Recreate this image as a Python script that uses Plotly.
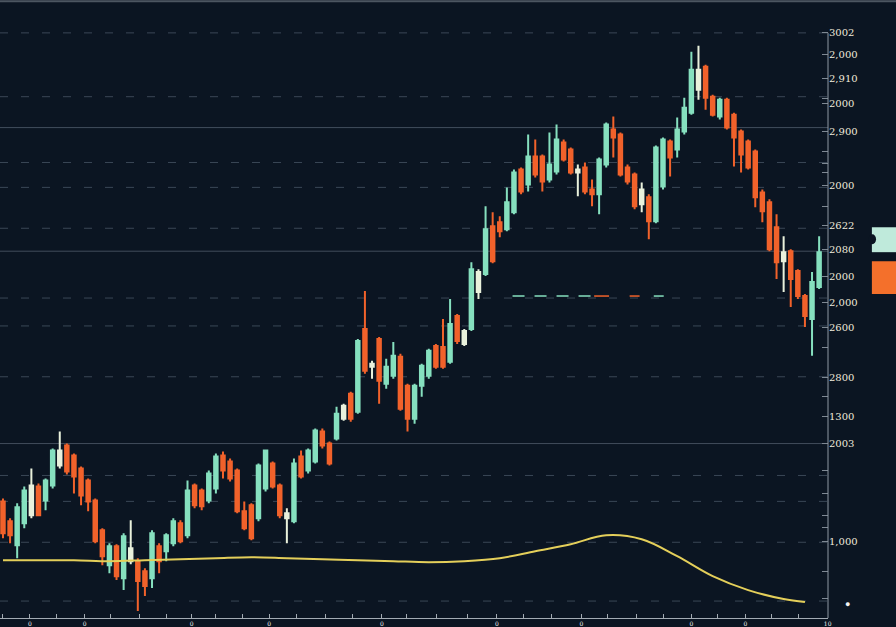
import plotly.graph_objects as go

# ---------------- data ----------------
open_ = [2117, 2097, 2073, 2095, 2103, 2132, 2118, 2133, 2153, 2173,
         2163, 2150, 2138, 2118, 2088, 2053, 2072, 2040, 2057, 2057,
         2047, 2040, 2072, 2067, 2075, 2095, 2083, 2133, 2128, 2118,
         2130, 2163, 2157, 2148, 2107, 2113, 2100, 2130, 2155, 2133,
         2100, 2097, 2162, 2148, 2157, 2187, 2175, 2180, 2200, 2225,
         2207, 2290, 2252, 2280, 2235, 2243, 2262, 2233, 2200, 2233,
         2243, 2273, 2272, 2257, 2303, 2275, 2290, 2327, 2345, 2393,
         2397, 2390, 2407, 2450, 2435, 2463, 2463, 2440, 2448, 2477,
         2470, 2447, 2452, 2430, 2425, 2455, 2490, 2485, 2452, 2445,
         2415, 2422, 2398, 2433, 2478, 2470, 2488, 2507, 2530, 2553,
         2523, 2503, 2520, 2505, 2488, 2478, 2468, 2427, 2417, 2392,
         2358, 2368, 2348, 2323, 2300, 2332]
high = [2120, 2100, 2115, 2132, 2150, 2135, 2140, 2170, 2187, 2175,
        2165, 2152, 2140, 2120, 2090, 2075, 2074, 2085, 2098, 2060,
        2050, 2088, 2075, 2085, 2100, 2098, 2138, 2135, 2130, 2148,
        2165, 2167, 2160, 2150, 2117, 2115, 2155, 2169, 2157, 2135,
        2110, 2160, 2168, 2170, 2190, 2190, 2177, 2212, 2215, 2227,
        2280, 2328, 2258, 2282, 2260, 2277, 2265, 2235, 2235, 2255,
        2270, 2275, 2300, 2320, 2305, 2290, 2357, 2350, 2413, 2407,
        2403, 2432, 2450, 2452, 2485, 2480, 2465, 2487, 2495, 2480,
        2472, 2455, 2457, 2440, 2462, 2497, 2503, 2487, 2455, 2447,
        2437, 2425, 2474, 2482, 2480, 2502, 2522, 2568, 2574, 2555,
        2525, 2522, 2522, 2507, 2490, 2480, 2470, 2430, 2420, 2405,
        2383, 2370, 2350, 2325, 2347, 2383]
low = [2080, 2075, 2060, 2090, 2100, 2102, 2108, 2130, 2150, 2144,
       2125, 2113, 2107, 2075, 2053, 2045, 2038, 2028, 2054, 2007,
       2022, 2030, 2045, 2057, 2072, 2075, 2080, 2110, 2108, 2115,
       2125, 2140, 2137, 2105, 2088, 2078, 2097, 2127, 2130, 2100,
       2075, 2095, 2140, 2145, 2155, 2170, 2153, 2178, 2198, 2197,
       2205, 2245, 2240, 2215, 2230, 2240, 2208, 2187, 2195, 2222,
       2240, 2250, 2250, 2255, 2275, 2273, 2288, 2320, 2343, 2356,
       2382, 2388, 2405, 2425, 2428, 2442, 2428, 2437, 2445, 2458,
       2445, 2423, 2425, 2413, 2405, 2452, 2462, 2443, 2435, 2410,
       2407, 2380, 2396, 2430, 2443, 2462, 2485, 2505, 2520, 2510,
       2503, 2500, 2490, 2453, 2447, 2450, 2412, 2397, 2368, 2340,
       2327, 2312, 2320, 2292, 2263, 2330]
close = [2085, 2083, 2111, 2128, 2133, 2103, 2138, 2168, 2168, 2147,
         2142, 2123, 2117, 2077, 2062, 2072, 2042, 2082, 2070, 2037,
         2032, 2085, 2057, 2083, 2097, 2077, 2128, 2113, 2112, 2145,
         2162, 2148, 2140, 2107, 2090, 2080, 2153, 2168, 2132, 2103,
         2105, 2155, 2142, 2168, 2188, 2173, 2155, 2205, 2213, 2200,
         2278, 2248, 2255, 2238, 2252, 2263, 2210, 2200, 2233, 2253,
         2268, 2252, 2252, 2295, 2278, 2288, 2350, 2347, 2390, 2358,
         2388, 2417, 2447, 2428, 2463, 2445, 2438, 2455, 2480, 2460,
         2447, 2450, 2428, 2425, 2460, 2495, 2482, 2445, 2438, 2413,
         2430, 2398, 2472, 2480, 2462, 2490, 2512, 2550, 2550, 2522,
         2505, 2520, 2492, 2482, 2465, 2452, 2422, 2408, 2370, 2357,
         2367, 2340, 2323, 2303, 2337, 2367]
# candles drawn in a pale cream tone in the reference
highlighted = [4, 8, 18, 40, 48, 52, 65, 67, 81, 90, 98, 110]

# smooth yellow average line
ma_x = [0, 5, 10, 15, 20, 25, 30, 35, 40, 45, 50, 55, 60, 65, 70, 75,
        80, 85, 90, 95, 100, 105, 110, 113]
ma_y = [2058, 2058, 2058, 2057, 2058, 2059, 2060, 2061, 2060, 2059, 2058,
        2057, 2056, 2057, 2060, 2067, 2074, 2083, 2079, 2062, 2042, 2028,
        2019, 2016]

# right axis ticks (labels as printed in the reference)
y_tick_vals = [2587, 2565, 2541, 2516, 2488, 2434, 2394, 2370, 2343, 2317,
               2291, 2241, 2202, 2175, 2077]
y_tick_text = ["3002", "2,000", "2,910", "2000", "2,900", "2000", "2622",
               "2080", "2000", "2,000", "2600", "2800", "1300", "2003", "1,000"]
y_minor_vals = [2521, 2468, 2456, 2447, 2413, 2271, 2222, 2148, 2125, 2103,
                2091, 2047, 2020]

x_tick_vals = [-0.1, 3.8, 7.6, 11.5, 15.2, 19.2, 23.0, 26.6, 29.9, 33.7,
               37.5, 41.3, 45.4, 49.3, 53.4, 56.9, 61.1, 65.4, 69.6, 73.4,
               77.3, 81.5, 85.2, 89.2, 93.0, 97.0, 100.7, 104.6, 108.3,
               112.1, 116.2]
x_tick_text = ["", "0", "", "0", "", "", "", "0", "", "", "0", "", "", "",
               "0", "", "", "", "0", "", "", "0", "", "", "", "0", "", "0",
               "", "", "10"]

grid_dashed = [2587, 2523, 2457, 2432, 2391, 2321, 2293, 2242, 2143, 2117,
               2076, 2017]
grid_solid = [2492, 2368, 2175]

# ---------------- styling ----------------
BG = "#0b1522"
MINT = "#86e0bf"
ORANGE = "#f1622b"
CREAM = "#e9f1dc"

n = len(open_)
idx = list(range(n))
norm = [i for i in idx if i not in highlighted]

fig = go.Figure()
fig.add_trace(go.Candlestick(
    x=norm,
    open=[open_[i] for i in norm], high=[high[i] for i in norm],
    low=[low[i] for i in norm], close=[close[i] for i in norm],
    increasing=dict(line=dict(color=MINT, width=2), fillcolor=MINT),
    decreasing=dict(line=dict(color=ORANGE, width=2), fillcolor=ORANGE),
    showlegend=False, hoverinfo="skip"))
fig.add_trace(go.Candlestick(
    x=highlighted,
    open=[open_[i] for i in highlighted], high=[high[i] for i in highlighted],
    low=[low[i] for i in highlighted], close=[close[i] for i in highlighted],
    increasing=dict(line=dict(color=CREAM, width=2), fillcolor=CREAM),
    decreasing=dict(line=dict(color=CREAM, width=2), fillcolor=CREAM),
    showlegend=False, hoverinfo="skip"))
fig.add_trace(go.Scatter(
    x=ma_x, y=ma_y, mode="lines",
    line=dict(color="#e4cf5a", width=2, shape="spline"),
    showlegend=False, hoverinfo="skip"))

shapes = []
for g in grid_dashed:
    shapes.append(dict(type="line", xref="paper", x0=0, x1=1, yref="y", y0=g, y1=g,
                       line=dict(color="rgba(125,140,158,0.42)", width=1, dash="8px,13px"),
                       layer="below"))
for g in grid_solid:
    shapes.append(dict(type="line", xref="paper", x0=0, x1=1, yref="y", y0=g, y1=g,
                       line=dict(color="rgba(120,134,150,0.5)", width=1),
                       layer="below"))
# coloured dashes on one level
shapes.append(dict(type="line", xref="x", x0=71.8, x1=83.0, yref="y", y0=2323, y1=2323,
                   line=dict(color=MINT, width=1.5, dash="12px,10px"), layer="below"))
shapes.append(dict(type="line", xref="x", x0=83.3, x1=85.4, yref="y", y0=2323, y1=2323,
                   line=dict(color=ORANGE, width=1.5), layer="below"))
shapes.append(dict(type="line", xref="x", x0=88.3, x1=89.7, yref="y", y0=2323, y1=2323,
                   line=dict(color=ORANGE, width=1.5), layer="below"))
shapes.append(dict(type="line", xref="x", x0=91.7, x1=93.1, yref="y", y0=2323, y1=2323,
                   line=dict(color=MINT, width=1.5), layer="below"))
# right axis line
shapes.append(dict(type="line", xref="paper", x0=1, x1=1, yref="y", y0=2587, y1=2000,
                   line=dict(color="#8f99a3", width=1)))
# top border
shapes.append(dict(type="line", xref="paper", x0=0, x1=1.09, yref="paper", y0=0.998, y1=0.998,
                   line=dict(color="rgba(120,130,140,0.6)", width=2)))
# price tags on right
shapes.append(dict(type="rect", xref="paper", x0=1.053, x1=1.09, yref="y", y0=2367, y1=2392,
                   fillcolor="#bfeadb", line=dict(width=0)))
shapes.append(dict(type="rect", xref="paper", x0=1.053, x1=1.09, yref="y", y0=2325, y1=2358,
                   fillcolor="#f4702b", line=dict(width=0)))
shapes.append(dict(type="circle", xref="paper", x0=1.049, x1=1.058, yref="y", y0=2375, y1=2385,
                   fillcolor=BG, line=dict(width=0)))

fig.update_layout(
    width=896, height=627,
    margin=dict(l=0, r=68, t=0, b=7),
    paper_bgcolor=BG, plot_bgcolor=BG,
    shapes=shapes,
    annotations=[dict(xref="paper", yref="y", x=1.024, y=2015, text="●",
                      showarrow=False, font=dict(color="#f2f2f2", size=9),
                      xanchor="center", yanchor="middle")],
    xaxis=dict(range=[-0.42, 116.25], rangeslider=dict(visible=False),
               showgrid=False, zeroline=False, showline=True, linecolor="#a3abb3",
               linewidth=1, ticks="inside", ticklen=4, tickcolor="#a3abb3",
               tickmode="array", tickvals=x_tick_vals, ticktext=x_tick_text,
               ticklabelstandoff=0,
               tickfont=dict(family="DejaVu Serif", size=6, color="#f0f0f0")),
    yaxis=dict(range=[2000, 2620], side="right", showgrid=False, zeroline=False,
               showline=False, ticks="inside", ticklen=6, tickcolor="#7f8994",
               tickmode="array", tickvals=y_tick_vals + y_minor_vals,
               ticktext=y_tick_text + [""] * len(y_minor_vals),
               tickfont=dict(family="DejaVu Serif", size=10, color="#efeadc")),
)

fig.write_html("out.html", config={"displayModeBar": False},
               post_script="document.body.style.margin='0px';")
